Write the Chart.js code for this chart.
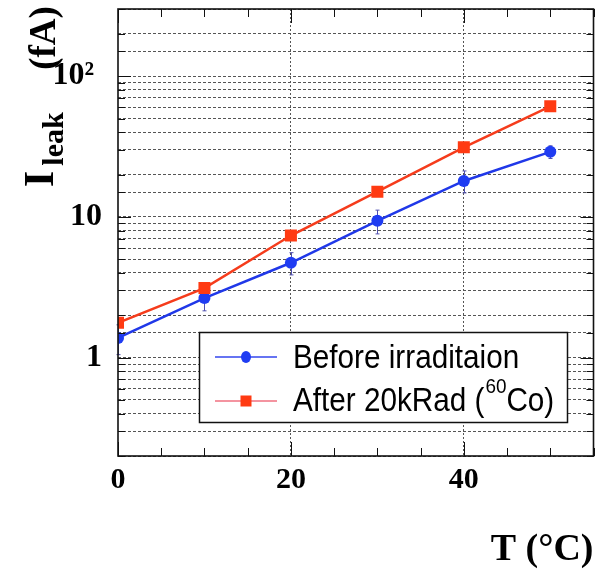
<!DOCTYPE html>
<html>
<head>
<meta charset="utf-8">
<script src="https://cdn.jsdelivr.net/npm/chart.js@4/dist/chart.umd.min.js"></script>
<style>
html,body{margin:0;padding:0;background:#fff;}
#wrap{width:602px;height:569px;position:relative;}
</style>
</head>
<body>
<div id="wrap"><canvas id="c" width="602" height="569"></canvas></div>
<script>
// ---- data ----
const temps = [0, 10, 20, 30, 40, 50];
const beforeIrr = [1.38, 2.65, 4.72, 9.37, 18.0, 29.0];
const beforeErr = [0.33, 0.5, 0.85, 1.8, 3.2, 3.0];
const afterIrr = [1.77, 3.12, 7.37, 15.1, 31.2, 61.0];
const afterErr = [0, 0, 0, 0, 0, 0];
const seriesNames = ['Before irraditaion', 'After 20kRad ('];
const yTickLabels = {1: '1', 10: '10', 100: '10\u00B2 '};
const xTickLabels = [0, 20, 40];

const BLUE = '#1f3cf2', RED = '#ff3a12';

const pts = (xs, ys) => xs.map((x, i) => ({x: x, y: ys[i]}));

const framePlugin = {
  id: 'frame',
  beforeDatasetsDraw(chart) {
    const ctx = chart.ctx, ys = chart.scales.y;
    const xs = chart.scales.x;
    const drawErr = (vals, errs, col) => {
      ctx.save(); ctx.strokeStyle = col; ctx.lineWidth = 1;
      vals.forEach((v, i) => {
        if (!errs[i]) return;
        const px = Math.round(xs.getPixelForValue(temps[i])) + 0.5;
        const y1 = ys.getPixelForValue(v - errs[i]), y2 = ys.getPixelForValue(v + errs[i]);
        ctx.beginPath(); ctx.moveTo(px, y1); ctx.lineTo(px, y2);
        ctx.moveTo(px - 2, y1); ctx.lineTo(px + 2, y1);
        ctx.moveTo(px - 2, y2); ctx.lineTo(px + 2, y2);
        ctx.stroke();
      });
      ctx.restore();
    };
    drawErr(beforeIrr, beforeErr, '#5050b0');
    drawErr(afterIrr, afterErr, '#c05050');
  },
  afterDraw(chart) {
    const ctx = chart.ctx, a = chart.chartArea;
    const xs = chart.scales.x, ys = chart.scales.y;
    ctx.save();
    ctx.strokeStyle = '#111'; ctx.lineWidth = 1;
    ctx.beginPath();
    for (let v = xs.min; v <= xs.max; v += 5) {
      const px = Math.round(xs.getPixelForValue(v)) + 0.5;
      const len = (v % 20 === 0) ? 14 : 8;
      ctx.moveTo(px, a.bottom); ctx.lineTo(px, a.bottom - len);
      ctx.moveTo(px, a.top); ctx.lineTo(px, a.top + len);
    }
    ys.ticks.forEach(t => {
      const v = t.value;
      const py = Math.round(ys.getPixelForValue(v)) + 0.5;
      const lg = Math.log10(v);
      const major = Math.abs(lg - Math.round(lg)) < 1e-6;
      const len = major ? 13 : 7;
      ctx.moveTo(a.left, py); ctx.lineTo(a.left + len, py);
      ctx.moveTo(a.right, py); ctx.lineTo(a.right - len, py);
    });
    ctx.stroke();
    ctx.lineWidth = 1.6; ctx.strokeStyle = '#111';
    ctx.strokeRect(a.left, a.top, a.right - a.left, a.bottom - a.top);

    // legend
    const L = {x: 199.5, y: 332.5, w: 368, h: 90};
    ctx.fillStyle = '#fff'; ctx.fillRect(L.x, L.y, L.w, L.h);
    ctx.lineWidth = 1.5; ctx.strokeStyle = '#111'; ctx.strokeRect(L.x, L.y, L.w, L.h);
    ctx.lineWidth = 1.5; ctx.strokeStyle = '#3346ee';
    ctx.beginPath(); ctx.moveTo(215, 357); ctx.lineTo(277, 357); ctx.stroke();
    ctx.fillStyle = BLUE; ctx.beginPath(); ctx.ellipse(246, 357, 5, 6, 0, 0, Math.PI * 2); ctx.fill();
    ctx.strokeStyle = '#f07080';
    ctx.beginPath(); ctx.moveTo(215, 401); ctx.lineTo(277, 401); ctx.stroke();
    ctx.fillStyle = RED; ctx.fillRect(240.5, 395.5, 11, 11);
    ctx.fillStyle = '#000'; ctx.textAlign = 'left'; ctx.textBaseline = 'alphabetic';
    const sx = 0.9;
    ctx.save(); ctx.translate(293, 368); ctx.scale(sx, 1);
    ctx.font = '33px "Liberation Sans", Arial, sans-serif';
    ctx.fillText(seriesNames[0], 0, 0);
    ctx.restore();
    ctx.save(); ctx.translate(293, 411); ctx.scale(sx, 1);
    ctx.font = '33px "Liberation Sans", Arial, sans-serif';
    let w = ctx.measureText(seriesNames[1]).width;
    ctx.fillText(seriesNames[1], 0, 0);
    ctx.font = '21px "Liberation Sans", Arial, sans-serif';
    ctx.fillText('60', w + 1, -18);
    w += ctx.measureText('60').width + 1;
    ctx.font = '33px "Liberation Sans", Arial, sans-serif';
    ctx.fillText('Co)', w, 0);
    ctx.restore();

    // y title (rotated, with subscript)
    const rot = (text, font, bx, cy) => {
      ctx.save(); ctx.translate(bx, cy); ctx.rotate(-Math.PI / 2);
      ctx.font = font; ctx.textAlign = 'center'; ctx.textBaseline = 'alphabetic';
      ctx.fillText(text, 0, 0); ctx.restore();
    };
    ctx.fillStyle = '#000';
    rot('I', 'bold 42px "Liberation Serif", serif', 53, 179);
    rot('leak', 'bold 30px "Liberation Serif", serif', 63, 139);
    rot('(fA)', 'bold 37px "Liberation Serif", serif', 55, 38);
    ctx.restore();
  }
};

new Chart(document.getElementById('c'), {
  type: 'line',
  data: {
    datasets: [
      {
        label: 'After 20kRad (60Co)',
        data: pts(temps, afterIrr),
        borderColor: '#f53c1c', backgroundColor: RED,
        borderWidth: 2.5, pointStyle: 'rect', pointRadius: 8.5,
        pointBorderWidth: 0, pointBackgroundColor: RED, tension: 0
      },
      {
        label: 'Before irraditaion',
        data: pts(temps, beforeIrr),
        borderColor: '#2038e8', backgroundColor: BLUE,
        borderWidth: 2.5, pointStyle: 'circle', pointRadius: 6,
        pointBorderWidth: 0, pointBackgroundColor: BLUE, tension: 0
      }
    ]
  },
  plugins: [framePlugin],
  options: {
    responsive: false,
    animation: false,
    devicePixelRatio: 1,
    layout: {padding: {left: 0, top: 9, right: 7, bottom: 0}},
    plugins: {legend: {display: false}, tooltip: {enabled: false}},
    scales: {
      x: {
        type: 'linear', min: 0, max: 55,
        afterFit(s) { s.height = 113; },
        border: {display: false, dash: [2, 2]},
        grid: {
          drawTicks: false,
          color: c => (c.tick && c.tick.value > 0 && xTickLabels.includes(c.tick.value)) ? '#555' : 'rgba(0,0,0,0)',
          lineWidth: 1
        },
        ticks: {
          stepSize: 20, includeBounds: false, autoSkip: false, maxRotation: 0,
          padding: 6, color: '#000',
          font: {family: '"Liberation Serif", serif', size: 30, weight: 'bold', lineHeight: 1.2},
          callback: v => xTickLabels.includes(v) ? String(v) : ''
        },
        title: {
          display: true, text: 'T (\u00B0C)', align: 'end', color: '#000',
          font: {family: '"Liberation Serif", serif', size: 38, weight: 'bold', lineHeight: 1},
          padding: 0
        }
      },
      y: {
        type: 'logarithmic', min: 0.2, max: 300,
        afterFit(s) { s.width = 118; s.paddingTop = 0; s.paddingBottom = 0; },
        border: {display: false, dash: [3, 2]},
        grid: {drawTicks: false, color: '#555', lineWidth: 1},
        ticks: {
          autoSkip: false, padding: 16, color: '#000',
          font: {family: '"Liberation Serif", serif', size: 32, weight: 'bold'},
          callback: v => {
            for (const k in yTickLabels) { if (Math.abs(v - Number(k)) < 1e-9 * Number(k)) return yTickLabels[k]; }
            return '';
          }
        }
      }
    }
  }
});
</script>
</body>
</html>
